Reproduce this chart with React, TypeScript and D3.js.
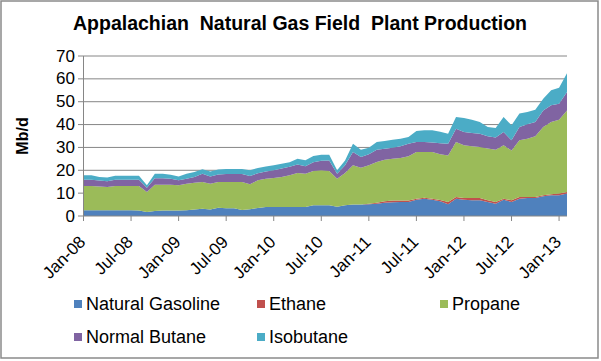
import * as d3 from 'd3';

const seriesNames = ['Natural Gasoline', 'Ethane', 'Propane', 'Normal Butane', 'Isobutane'];
const seriesColors = ['#4F81BD', '#C0504D', '#9BBB59', '#8064A2', '#4BACC6'];

// monthly, Jan-08 .. Feb-13 (Mb/d)
const naturalGasoline = [
  2.5, 2.5, 2.5, 2.5, 2.5, 2.5, 2.5, 2.4, 1.8, 2.2,
  2.4, 2.4, 2.4, 2.5, 2.8, 3.2, 2.8, 3.6, 3.4, 3.4,
  2.6, 3.0, 3.5, 3.9, 3.9, 3.9, 3.9, 3.9, 3.9, 4.7,
  4.7, 4.7, 4.0, 4.7, 5.0, 5.0, 5.1, 5.4, 5.8, 6.0,
  6.1, 6.1, 7.1, 7.6, 7.1, 6.4, 5.1, 7.6, 7.1, 6.9,
  6.9, 6.1, 5.4, 7.1, 6.1, 7.6, 7.9, 7.9, 8.6, 9.1,
  9.1, 9.8,
];
const ethane = [
  0, 0, 0, 0, 0, 0, 0, 0, 0, 0,
  0, 0, 0, 0, 0, 0, 0, 0, 0, 0,
  0, 0, 0, 0, 0, 0, 0, 0, 0, 0,
  0, 0, 0, 0, 0, 0, 0.3, 0.4, 0.7, 0.8,
  0.7, 0.7, 0.5, 0.4, 0.5, 0.6, 1.0, 0.7, 0.8, 1.0,
  1.0, 0.8, 0.7, 0.5, 0.8, 0.7, 0.4, 0.4, 0.5, 0.4,
  0.7, 0.7,
];
const propane = [
  10.6, 10.6, 10.4, 10.2, 10.6, 10.6, 10.6, 10.7, 8.7, 11.5,
  11.3, 11.3, 11.0, 11.6, 11.8, 11.7, 11.3, 11.3, 11.5, 11.5,
  12.3, 10.9, 12.1, 12.4, 12.7, 13.2, 13.9, 14.9, 14.6, 15.0,
  15.3, 15.0, 12.3, 14.1, 17.2, 16.1, 16.8, 17.8, 18.1, 18.3,
  18.6, 19.3, 20.4, 20.0, 20.4, 20.0, 20.4, 24.1, 23.0, 22.6,
  22.3, 22.6, 22.9, 23.3, 21.8, 24.8, 25.5, 26.6, 29.8, 31.6,
  32.3, 35.7,
];
const normalButane = [
  2.8, 2.8, 2.6, 2.5, 2.8, 2.8, 2.8, 2.8, 1.9, 2.8,
  2.8, 2.6, 2.2, 2.2, 2.5, 3.6, 3.2, 3.3, 3.5, 3.5,
  3.5, 3.6, 3.1, 3.2, 3.4, 3.7, 3.7, 3.7, 3.3, 3.8,
  4.2, 4.6, 2.2, 3.4, 5.8, 4.7, 4.8, 5.4, 4.8, 4.8,
  5.1, 5.5, 4.4, 4.4, 4.2, 4.8, 5.1, 5.8, 5.8, 5.8,
  5.8, 5.4, 5.3, 5.8, 4.4, 5.8, 6.3, 6.2, 7.3, 7.3,
  7.0, 8.0,
];
const isobutane = [
  1.9, 1.9, 1.6, 1.6, 1.7, 1.7, 1.7, 1.7, 1.0, 2.0,
  2.0, 1.8, 1.7, 2.2, 2.1, 2.0, 2.2, 2.1, 2.2, 2.2,
  2.2, 2.5, 2.3, 2.2, 2.2, 2.1, 2.0, 2.6, 2.6, 2.8,
  2.6, 2.5, 1.5, 2.1, 3.6, 3.2, 2.9, 3.4, 3.4, 3.5,
  3.3, 3.0, 4.8, 5.1, 5.3, 5.1, 4.4, 5.1, 6.2, 5.8,
  5.1, 4.0, 4.2, 6.6, 6.6, 5.9, 5.4, 5.4, 5.1, 6.6,
  7.0, 8.3,
];

const tickLabels = ['Jan-08', 'Jul-08', 'Jan-09', 'Jul-09', 'Jan-10', 'Jul-10', 'Jan-11', 'Jul-11', 'Jan-12', 'Jul-12', 'Jan-13'];
const yTicks = [0, 10, 20, 30, 40, 50, 60, 70];

const FONT = 'Arial, "Liberation Sans", sans-serif';
const GRID = '#868686';

export default function App() {
  const allSeries = [naturalGasoline, ethane, propane, normalButane, isobutane];
  const rows = naturalGasoline.map((_, i) => {
    const r: Record<string, number> = { i };
    seriesNames.forEach((k, j) => { r[k] = allSeries[j][i]; });
    return r;
  });

  const x = d3.scaleLinear().domain([0, naturalGasoline.length - 1]).range([83.5, 567]);
  const y = d3.scaleLinear().domain([0, 70]).range([216, 56]);

  const stacked = d3.stack<Record<string, number>>().keys(seriesNames)(rows);
  const area = d3.area<d3.SeriesPoint<Record<string, number>>>()
    .x(d => x(d.data.i))
    .y0(d => y(d[0]))
    .y1(d => y(d[1]));

  const legendPos = [
    [74, 304], [257, 304], [440, 304],
    [74, 337], [257, 337],
  ];

  return (
    <svg width={601} height={361} style={{ position: 'absolute', left: 0, top: 0, background: '#fff' }} fontFamily={FONT}>
      <rect x={0} y={0} width={601} height={361} fill="#fff" />
      <rect x={1} y={1} width={597} height={357} fill="none" stroke="#8a8a8a" strokeWidth={1.5} />

      <text x={300} y={30} textAnchor="middle" fontSize={19.5} fontWeight="bold" style={{ whiteSpace: 'pre' }}>
        {'Appalachian  Natural Gas Field  Plant Production'}
      </text>

      {yTicks.slice(1).map(t => (
        <line key={t} x1={78} x2={567} y1={y(t)} y2={y(t)} stroke={GRID} strokeWidth={1} />
      ))}

      {stacked.map((s, j) => (
        <path key={s.key} d={area(s) || ''} fill={seriesColors[j]} />
      ))}

      <line x1={83.5} x2={83.5} y1={56} y2={216} stroke={GRID} />
      <line x1={78} x2={567} y1={216} y2={216} stroke={GRID} />
      {yTicks.map(t => (
        <text key={t} x={75} y={y(t)} textAnchor="end" dominantBaseline="central" fontSize={17}>{t}</text>
      ))}
      <text transform="translate(22,136) rotate(-90)" textAnchor="middle" dominantBaseline="central" fontSize={16} fontWeight="bold">Mb/d</text>

      {tickLabels.map((lab, k) => {
        const tx = x(k * 6);
        return (
          <g key={lab}>
            <line x1={tx} x2={tx} y1={216} y2={221} stroke={GRID} />
            <text transform={`translate(${tx + 3},${243}) rotate(-45)`} textAnchor="end" fontSize={17}>{lab}</text>
          </g>
        );
      })}

      {seriesNames.map((name, j) => (
        <g key={name}>
          <rect x={legendPos[j][0]} y={legendPos[j][1] - 4} width={8} height={8} fill={seriesColors[j]} />
          <text x={legendPos[j][0] + 12} y={legendPos[j][1]} dominantBaseline="central" fontSize={18}>{name}</text>
        </g>
      ))}
    </svg>
  );
}
